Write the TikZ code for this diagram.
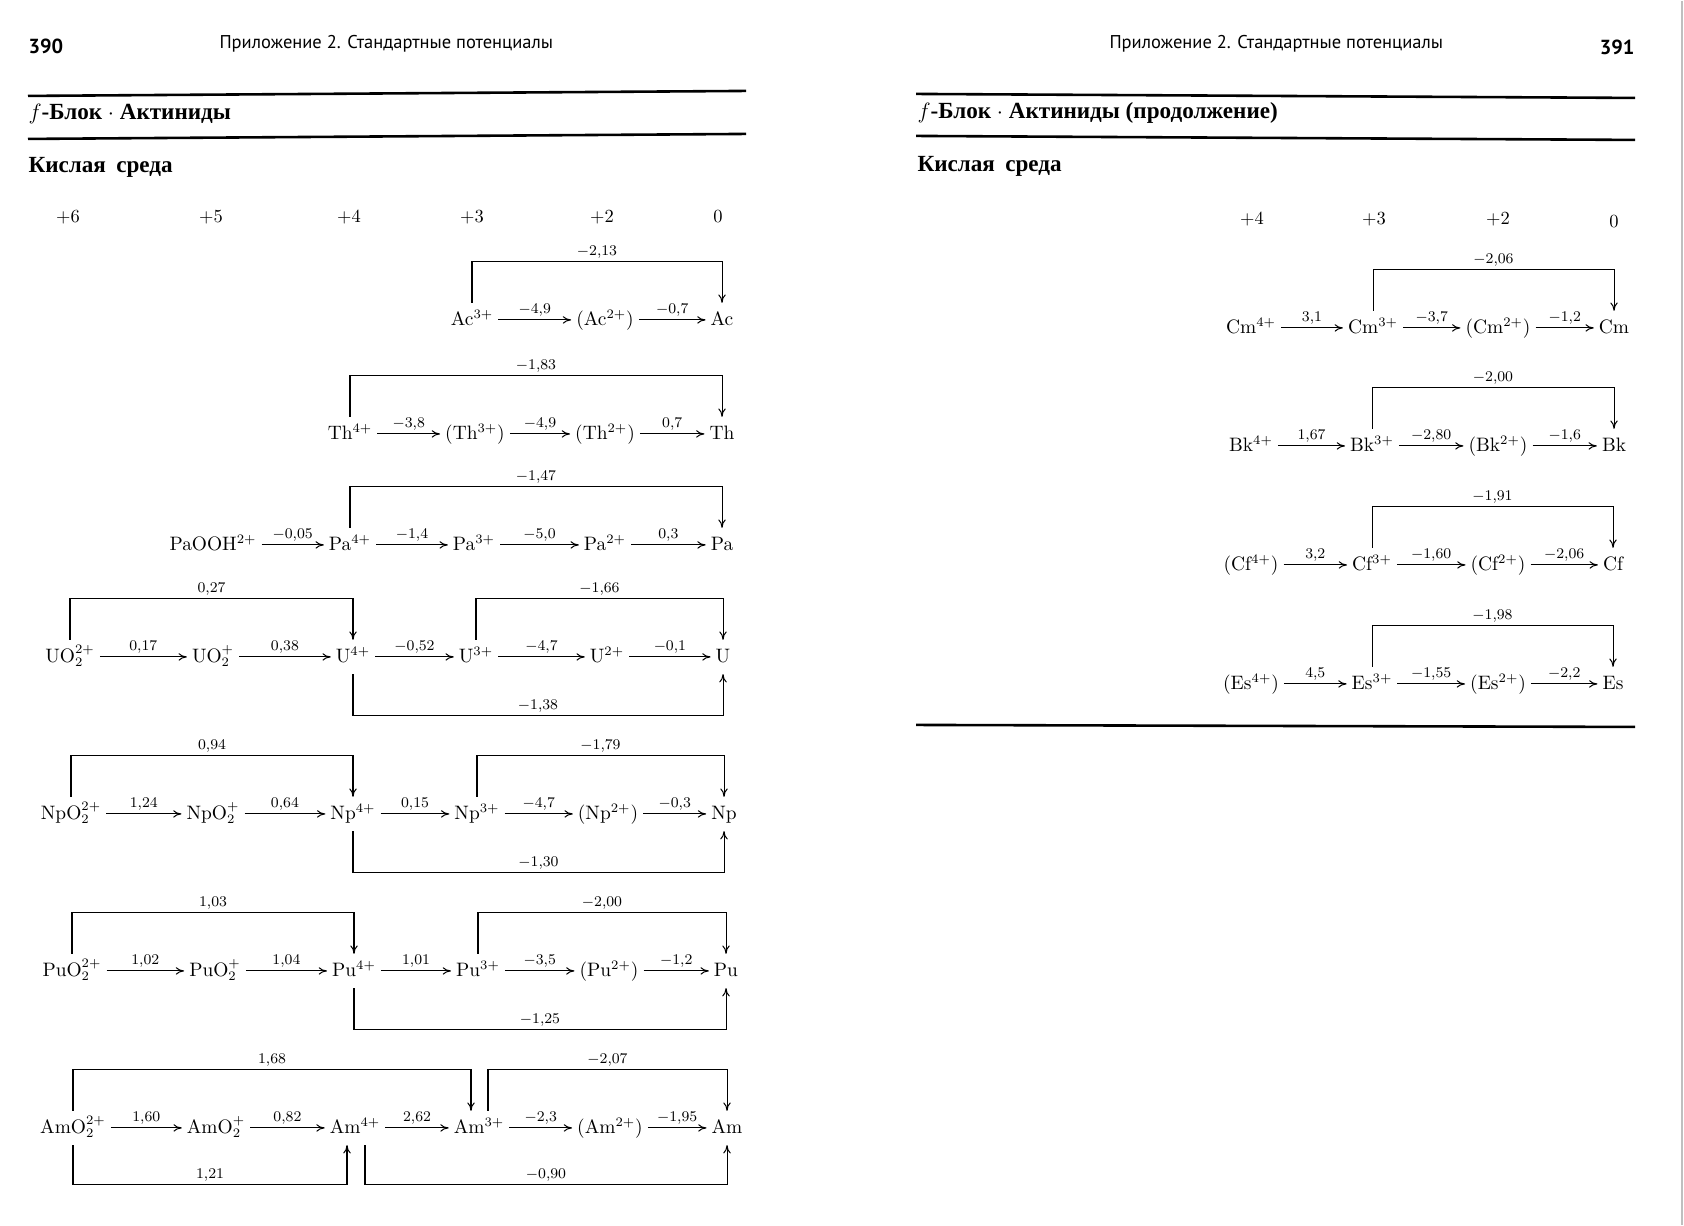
\documentclass[tikz,border=0pt]{standalone}
\usepackage{fontspec}
\usepackage{tikz}
\usetikzlibrary{arrows.meta,calc}
\newfontfamily\hdrfont{PT Sans}
\newfontfamily\cyrfont{Liberation Serif}

\tikzset{
    sp/.style={inner xsep=2.5pt, inner ysep=2pt, text height=10pt, text depth=4pt,
        font=\fontsize{10.5}{12}\selectfont},
    pot/.style={above=1pt, inner sep=0pt, text height=6pt, text depth=2pt,
        font=\fontsize{8.5}{10}\selectfont},
    ox/.style={font=\fontsize{10}{12}\selectfont},
    pagerule/.style={line width=1.4pt},
    runhead/.style={anchor=west, inner sep=0pt, font=\hdrfont\fontsize{10}{12}\selectfont},
    pagenum/.style={inner sep=0pt, font=\hdrfont\fontsize{11}{13}\selectfont\bfseries},
    heading/.style={anchor=west, inner sep=0pt, font=\cyrfont\fontsize{12.5}{15}\selectfont}
}

\begin{document}
\begin{tikzpicture}[x=0.019cm, y=-0.019cm, >={To[length=4.5pt,width=4pt]}, line width=0.55pt]
    \fill[white] (0,0) rectangle (1684,1224);
    \draw[gray!50, line width=1pt] (1682,0) -- (1682,1224);

    % page heads
    \node[pagenum, anchor=west] (numL) at (28,45) {390};
    \node[runhead] (headL) at (219,43) {Приложение 2. Стандартные потенциалы};
    \node[runhead] (headR) at (1109,43) {Приложение 2. Стандартные потенциалы};
    \node[pagenum, anchor=east] (numR) at (1635,46) {391};

    \draw[pagerule] (28,95) -- (746,90);
    \draw[pagerule] (28,138) -- (746,133);
    \draw[pagerule] (916,93) -- (1635,97);
    \draw[pagerule] (916,135) -- (1635,139);
    \draw[pagerule] (916,724) -- (1635,726);

    \node[heading] (ttlL) at (28,113) {$f$\textbf{-Блок}~$\cdot$~\textbf{Актиниды}};
    \node[heading] (ttlR) at (917,112) {$f$\textbf{-Блок}~$\cdot$~\textbf{Актиниды (продолжение)}};
    \node[heading] (medL) at (28,166) {\textbf{Кислая\hspace{0.45em}среда}};
    \node[heading] (medR) at (917,165) {\textbf{Кислая\hspace{0.45em}среда}};

    % oxidation states
    \foreach \x/\s [count=\i] in {68/+6, 211/+5, 349/+4, 472/+3, 602/+2, 718/0}
        \node[ox] (oxL\i) at (\x,216) {$\s$};
    \foreach \x/\y/\s [count=\i] in {1252/218/+4, 1374/218/+3, 1498/218/+2, 1614/221/0}
        \node[ox] (oxR\i) at (\x,\y) {$\s$};

    % Ac
    \node[sp] (Ac3) at (472,319) {Ac$^{3+}$};
    \node[sp] (Ac2) at (605,319) {(Ac$^{2+}$)};
    \node[sp] (Ac0) at (722,319) {Ac};
    \draw[->] (Ac3) -- node[pot] {$-4{,}9$} (Ac2);
    \draw[->] (Ac2) -- node[pot] {$-0{,}7$} (Ac0);
    \draw[->] (Ac3.north) -- ++(0,-41) -| node[pot, pos=0.25] {$-2{,}13$} (Ac0.north);

    % Th
    \node[sp] (Th4) at (350,433) {Th$^{4+}$};
    \node[sp] (Th3) at (475,433) {(Th$^{3+}$)};
    \node[sp] (Th2) at (605,433) {(Th$^{2+}$)};
    \node[sp] (Th0) at (722,433) {Th};
    \draw[->] (Th4) -- node[pot] {$-3{,}8$} (Th3);
    \draw[->] (Th3) -- node[pot] {$-4{,}9$} (Th2);
    \draw[->] (Th2) -- node[pot] {$0{,}7$} (Th0);
    \draw[->] (Th4.north) -- ++(0,-41) -| node[pot, pos=0.25] {$-1{,}83$} (Th0.north);

    % Pa
    \node[sp] (Pa5) at (213,544) {PaOOH$^{2+}$};
    \node[sp] (Pa4) at (350,544) {Pa$^{4+}$};
    \node[sp] (Pa3) at (474,544) {Pa$^{3+}$};
    \node[sp] (Pa2) at (605,544) {Pa$^{2+}$};
    \node[sp] (Pa0) at (722,544) {Pa};
    \draw[->] (Pa5) -- node[pot] {$-0{,}05$} (Pa4);
    \draw[->] (Pa4) -- node[pot] {$-1{,}4$} (Pa3);
    \draw[->] (Pa3) -- node[pot] {$-5{,}0$} (Pa2);
    \draw[->] (Pa2) -- node[pot] {$0{,}3$} (Pa0);
    \draw[->] (Pa4.north) -- ++(0,-41) -| node[pot, pos=0.25] {$-1{,}47$} (Pa0.north);

    % U
    \node[sp] (U6) at (70,656) {UO$_2^{2+}$};
    \node[sp] (U5) at (213,656) {UO$_2^{+}$};
    \node[sp] (U4) at (353,656) {U$^{4+}$};
    \node[sp] (U3) at (476,656) {U$^{3+}$};
    \node[sp] (U2) at (607,656) {U$^{2+}$};
    \node[sp] (U0) at (723,656) {U};
    \draw[->] (U6) -- node[pot] {$0{,}17$} (U5);
    \draw[->] (U5) -- node[pot] {$0{,}38$} (U4);
    \draw[->] (U4) -- node[pot] {$-0{,}52$} (U3);
    \draw[->] (U3) -- node[pot] {$-4{,}7$} (U2);
    \draw[->] (U2) -- node[pot] {$-0{,}1$} (U0);
    \draw[->] (U6.north) -- ++(0,-41) -| node[pot, pos=0.25] {$0{,}27$} (U4.north);
    \draw[->] (U3.north) -- ++(0,-41) -| node[pot, pos=0.25] {$-1{,}66$} (U0.north);
    \draw[->] (U4.south) -- ++(0,41) -| node[pot, pos=0.25] {$-1{,}38$} (U0.south);

    % Np
    \node[sp] (Np6) at (71,813) {NpO$_2^{2+}$};
    \node[sp] (Np5) at (213,813) {NpO$_2^{+}$};
    \node[sp] (Np4) at (353,813) {Np$^{4+}$};
    \node[sp] (Np3) at (477,813) {Np$^{3+}$};
    \node[sp] (Np2) at (608,813) {(Np$^{2+}$)};
    \node[sp] (Np0) at (724,813) {Np};
    \draw[->] (Np6) -- node[pot] {$1{,}24$} (Np5);
    \draw[->] (Np5) -- node[pot] {$0{,}64$} (Np4);
    \draw[->] (Np4) -- node[pot] {$0{,}15$} (Np3);
    \draw[->] (Np3) -- node[pot] {$-4{,}7$} (Np2);
    \draw[->] (Np2) -- node[pot] {$-0{,}3$} (Np0);
    \draw[->] (Np6.north) -- ++(0,-41) -| node[pot, pos=0.25] {$0{,}94$} (Np4.north);
    \draw[->] (Np3.north) -- ++(0,-41) -| node[pot, pos=0.25] {$-1{,}79$} (Np0.north);
    \draw[->] (Np4.south) -- ++(0,41) -| node[pot, pos=0.25] {$-1{,}30$} (Np0.south);

    % Pu
    \node[sp] (Pu6) at (72,970) {PuO$_2^{2+}$};
    \node[sp] (Pu5) at (215,970) {PuO$_2^{+}$};
    \node[sp] (Pu4) at (354,970) {Pu$^{4+}$};
    \node[sp] (Pu3) at (478,970) {Pu$^{3+}$};
    \node[sp] (Pu2) at (609,970) {(Pu$^{2+}$)};
    \node[sp] (Pu0) at (726,970) {Pu};
    \draw[->] (Pu6) -- node[pot] {$1{,}02$} (Pu5);
    \draw[->] (Pu5) -- node[pot] {$1{,}04$} (Pu4);
    \draw[->] (Pu4) -- node[pot] {$1{,}01$} (Pu3);
    \draw[->] (Pu3) -- node[pot] {$-3{,}5$} (Pu2);
    \draw[->] (Pu2) -- node[pot] {$-1{,}2$} (Pu0);
    \draw[->] (Pu6.north) -- ++(0,-41) -| node[pot, pos=0.25] {$1{,}03$} (Pu4.north);
    \draw[->] (Pu3.north) -- ++(0,-41) -| node[pot, pos=0.25] {$-2{,}00$} (Pu0.north);
    \draw[->] (Pu4.south) -- ++(0,41) -| node[pot, pos=0.25] {$-1{,}25$} (Pu0.south);

    % Am
    \node[sp] (Am6) at (73,1127) {AmO$_2^{2+}$};
    \node[sp] (Am5) at (216,1127) {AmO$_2^{+}$};
    \node[sp] (Am4) at (355,1127) {Am$^{4+}$};
    \node[sp] (Am3) at (479,1127) {Am$^{3+}$};
    \node[sp] (Am2) at (610,1127) {(Am$^{2+}$)};
    \node[sp] (Am0) at (727,1127) {Am};
    \draw[->] (Am6) -- node[pot] {$1{,}60$} (Am5);
    \draw[->] (Am5) -- node[pot] {$0{,}82$} (Am4);
    \draw[->] (Am4) -- node[pot] {$2{,}62$} (Am3);
    \draw[->] (Am3) -- node[pot] {$-2{,}3$} (Am2);
    \draw[->] (Am2) -- node[pot] {$-1{,}95$} (Am0);
    \draw[->] (Am6.north) -- ++(0,-41) -| node[pot, pos=0.25] {$1{,}68$} ($(Am3.north)+(-8,0)$);
    \draw[->] ($(Am3.north)+(9,0)$) -- ++(0,-41) -| node[pot, pos=0.25] {$-2{,}07$} (Am0.north);
    \draw[->] (Am6.south) -- ++(0,39) -| node[pot, pos=0.25] {$1{,}21$} ($(Am4.south)+(-8,0)$);
    \draw[->] ($(Am4.south)+(10,0)$) -- ++(0,39) -| node[pot, pos=0.25] {$-0{,}90$} (Am0.south);

    % Cm
    \node[sp] (Cm4) at (1251,327) {Cm$^{4+}$};
    \node[sp] (Cm3) at (1373,327) {Cm$^{3+}$};
    \node[sp] (Cm2) at (1498,327) {(Cm$^{2+}$)};
    \node[sp] (Cm0) at (1614,327) {Cm};
    \draw[->] (Cm4) -- node[pot] {$3{,}1$} (Cm3);
    \draw[->] (Cm3) -- node[pot] {$-3{,}7$} (Cm2);
    \draw[->] (Cm2) -- node[pot] {$-1{,}2$} (Cm0);
    \draw[->] (Cm3.north) -- ++(0,-41) -| node[pot, pos=0.25] {$-2{,}06$} (Cm0.north);

    % Bk
    \node[sp] (Bk4) at (1251,445) {Bk$^{4+}$};
    \node[sp] (Bk3) at (1372,445) {Bk$^{3+}$};
    \node[sp] (Bk2) at (1498,445) {(Bk$^{2+}$)};
    \node[sp] (Bk0) at (1614,445) {Bk};
    \draw[->] (Bk4) -- node[pot] {$1{,}67$} (Bk3);
    \draw[->] (Bk3) -- node[pot] {$-2{,}80$} (Bk2);
    \draw[->] (Bk2) -- node[pot] {$-1{,}6$} (Bk0);
    \draw[->] (Bk3.north) -- ++(0,-41) -| node[pot, pos=0.25] {$-2{,}00$} (Bk0.north);

    % Cf
    \node[sp] (Cf4) at (1251,564) {(Cf$^{4+}$)};
    \node[sp] (Cf3) at (1372,564) {Cf$^{3+}$};
    \node[sp] (Cf2) at (1498,564) {(Cf$^{2+}$)};
    \node[sp] (Cf0) at (1613,564) {Cf};
    \draw[->] (Cf4) -- node[pot] {$3{,}2$} (Cf3);
    \draw[->] (Cf3) -- node[pot] {$-1{,}60$} (Cf2);
    \draw[->] (Cf2) -- node[pot] {$-2{,}06$} (Cf0);
    \draw[->] (Cf3.north) -- ++(0,-41) -| node[pot, pos=0.25] {$-1{,}91$} (Cf0.north);

    % Es
    \node[sp] (Es4) at (1251,683) {(Es$^{4+}$)};
    \node[sp] (Es3) at (1372,683) {Es$^{3+}$};
    \node[sp] (Es2) at (1498,683) {(Es$^{2+}$)};
    \node[sp] (Es0) at (1613,683) {Es};
    \draw[->] (Es4) -- node[pot] {$4{,}5$} (Es3);
    \draw[->] (Es3) -- node[pot] {$-1{,}55$} (Es2);
    \draw[->] (Es2) -- node[pot] {$-2{,}2$} (Es0);
    \draw[->] (Es3.north) -- ++(0,-41) -| node[pot, pos=0.25] {$-1{,}98$} (Es0.north);
\end{tikzpicture}
\end{document}
